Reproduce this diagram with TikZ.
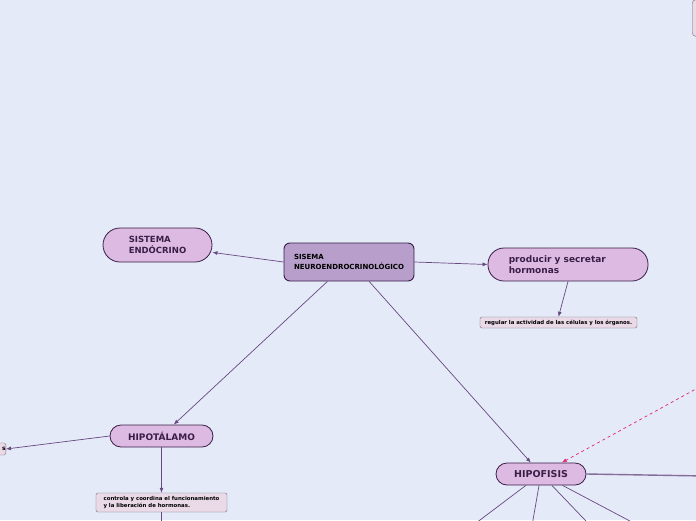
\documentclass[tikz,border=0pt]{standalone}
\usepackage{fontspec}
\setmainfont{DejaVu Sans}
\usetikzlibrary{arrows.meta, positioning}
\definecolor{MapBg}{RGB}{228,234,248}
\definecolor{MainFill}{RGB}{183,158,203}
\definecolor{PillFill}{RGB}{220,186,226}
\definecolor{NoteFill}{RGB}{234,218,232}
\definecolor{DarkPurple}{RGB}{58,30,72}
\definecolor{LinePurple}{RGB}{104,72,128}
\definecolor{NoteGrey}{RGB}{120,108,120}
\definecolor{DashPink}{RGB}{226,40,110}

\begin{document}
\begin{tikzpicture}[
            x=1pt, y=-1pt,
            mainbox/.style={
                draw=DarkPurple,
                fill=MainFill,
                rounded corners=6pt,
                line width=0.9pt,
                align=left,
                inner sep=0pt,
                minimum width=130pt,
                minimum height=38pt,
                font=\bfseries\fontsize{7}{10}\selectfont
            },
            pill/.style={
                draw=DarkPurple,
                fill=PillFill,
                line width=0.8pt,
                align=left,
                inner sep=0pt,
                text=DarkPurple,
                font=\bfseries\fontsize{9}{11}\selectfont
            },
            note/.style={
                draw=NoteGrey,
                fill=NoteFill,
                rounded corners=1.5pt,
                align=left,
                inner sep=0pt,
                font=\bfseries\fontsize{5.4}{7}\selectfont
            },
            arrow/.style={-{Latex[length=5pt,width=4pt]}, line width=0.7pt, draw=LinePurple}
        ]
            \fill[MapBg] (0,0) rectangle (696,520);
            \useasboundingbox (0,0) rectangle (696,520);

            \node[mainbox] (neuro) at (349,262) {SISEMA\\NEUROENDROCRINOLÓGICO};
            \node[pill, rounded corners=17pt, minimum width=109pt, minimum height=34pt,
                  font=\bfseries\fontsize{8.5}{11}\selectfont] (endo) at (157.5,245) {SISTEMA\\ENDÓCRINO};
            \node[pill, rounded corners=16pt, minimum width=160pt, minimum height=33pt] (prod) at (568,264.5)
                {producir y secretar\\hormonas\hspace*{68pt}};
            \node[note, minimum width=157pt, minimum height=11pt] (reg) at (558.5,322.5)
                {regular la actividad de las células y los órganos.};
            \node[pill, rounded corners=11pt, minimum width=103pt, minimum height=22pt] (hipot) at (161.5,436) {HIPOTÁLAMO};
            \node[note, minimum width=131pt, minimum height=19pt] (contr) at (161.5,502.5)
                {controla y coordina el funcionamiento\\y la liberación de hormonas.};
            \node[pill, rounded corners=11pt, minimum width=90pt, minimum height=22pt,
                  font=\bfseries\fontsize{9.5}{11}\selectfont] (hipof) at (541,474) {HIPOFISIS};
            \node[note, anchor=east, text width=40pt, align=right, minimum height=12pt,
                  font=\bfseries\fontsize{6}{7}\selectfont] (left) at (6,449) {s};
            \node[note, anchor=west, minimum width=40pt, minimum height=37pt, rounded corners=4pt] (corner) at (692,18) {};

            \coordinate (down) at (161.5,530);
            \coordinate (dash) at (705,384);
            \coordinate (right) at (705,476);
            \coordinate (h1) at (467.8,529.2);
            \coordinate (h2) at (531.4,529.2);
            \coordinate (h3) at (593.8,529.2);
            \coordinate (h4) at (645.4,529.2);

            \draw[arrow] (neuro.west) -- (endo);
            \draw[arrow] (neuro.east) -- (prod.west);
            \draw[arrow] (prod.south) -- (reg.north);
            \draw[arrow] (neuro.222) -- (hipot);
            \draw[arrow] (neuro.316) -- (hipof);
            \draw[arrow] (hipot.west) -- (left.east);
            \draw[arrow] (hipot.south) -- (contr.north);
            \draw[arrow] (contr.south) -- (down);
            \draw[arrow, draw=DashPink, dashed, dash pattern=on 3pt off 3pt] (dash) -- (hipof);
            \draw[line width=1.4pt, draw=LinePurple!80] (hipof.east) -- (right);
            \draw[arrow] (hipof) -- (h1);
            \draw[arrow] (hipof) -- (h2);
            \draw[arrow] (hipof) -- (h3);
            \draw[arrow] (hipof) -- (h4);
        \end{tikzpicture}
\end{document}
